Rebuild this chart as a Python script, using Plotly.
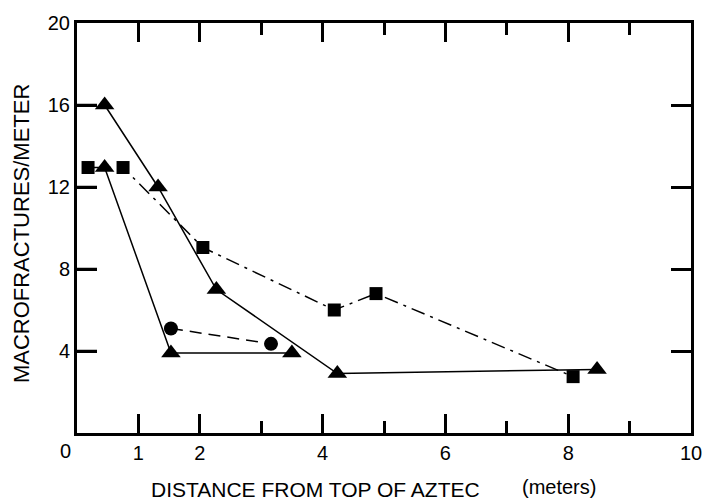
import plotly.graph_objects as go

# Series A: triangles, solid line
a_x = [0.45, 1.32, 2.27, 4.24, 8.47]
a_y = [16.0, 12.0, 7.0, 2.9, 3.1]
# Series B: triangles, solid line
b_x = [0.45, 1.53, 3.5]
b_y = [12.95, 3.9, 3.9]
# Series C: squares, dash-dot line
c_x = [0.18, 0.75, 2.05, 4.19, 4.87, 8.08]
c_y = [12.95, 12.95, 9.05, 6.0, 6.8, 2.75]
# Series D: circles, dashed line
d_x = [1.53, 3.16]
d_y = [5.1, 4.35]

x_major = [0, 1, 2, 4, 6, 8, 10]
x_labels = ["", "1", "2", "4", "6", "8", "10"]
x_minor = [3, 5, 7, 9]
y_ticks = [4, 8, 12, 16, 20]
y_tick_marks = [4, 8, 12, 16]

FONT = "Liberation Sans, Arial, sans-serif"
W, H = 714, 500
L, R, T, B = 77, 21, 17, 67
PW, PH = W - L - R, H - T - B


def px(x):
    return (x - L) / PW


def py(y):
    return (H - B - y) / PH


fig = go.Figure()
fig.add_trace(go.Scatter(x=c_x, y=c_y, mode="lines+markers",
                         line=dict(color="black", width=1.5, dash="14px,6px,3px,6px"),
                         marker=dict(symbol="square", size=13, color="black")))
fig.add_trace(go.Scatter(x=d_x, y=d_y, mode="lines+markers",
                         line=dict(color="black", width=1.5, dash="12px,7px"),
                         marker=dict(symbol="circle", size=14, color="black")))
fig.add_trace(go.Scatter(x=a_x, y=a_y, mode="lines+markers",
                         line=dict(color="black", width=1.5),
                         marker=dict(symbol="triangle-up", size=17, color="black")))
fig.add_trace(go.Scatter(x=b_x, y=b_y, mode="lines+markers",
                         line=dict(color="black", width=1.5),
                         marker=dict(symbol="triangle-up", size=17, color="black")))

fig.update_layout(
    width=W, height=H,
    margin=dict(l=L, r=R, t=T, b=B),
    paper_bgcolor="white", plot_bgcolor="white",
    showlegend=False,
    font=dict(family=FONT, color="black", size=20),
    xaxis=dict(range=[0, 10], showgrid=False, zeroline=False,
               showline=True, linecolor="black", linewidth=3, mirror="allticks",
               ticks="inside", ticklen=19, tickwidth=2.5, tickcolor="black",
               tickvals=x_major, ticktext=x_labels,
               minor=dict(tickvals=x_minor, ticks="inside", ticklen=12,
                          tickwidth=2.5, tickcolor="black", showgrid=False),
               tickfont=dict(size=20, family=FONT)),
    yaxis=dict(range=[0, 20], showgrid=False, zeroline=False,
               showline=True, linecolor="black", linewidth=3, mirror="allticks",
               ticks="inside", ticklen=20, tickwidth=2.5, tickcolor="black",
               tickvals=y_ticks, ticktext=[str(v) for v in y_ticks],
               tickfont=dict(size=20, family=FONT)),
)

# left-side tick marks (inside), drawn on the data scale
for yv in y_tick_marks:
    fig.add_shape(type="line", xref="x", yref="y", xsizemode="pixel", xanchor=0,
                  x0=0, x1=20, y0=yv, y1=yv, line=dict(color="black", width=2.5))

fig.add_annotation(x=px(65), y=py(451), xref="paper", yref="paper", text="0",
                   xanchor="center", yanchor="middle",
                   showarrow=False, font=dict(size=20, family=FONT))
fig.add_annotation(x=px(316), y=py(490), xref="paper", yref="paper",
                   text="DISTANCE FROM TOP OF AZTEC", xanchor="center", yanchor="middle",
                   showarrow=False, font=dict(size=21, family=FONT))
fig.add_annotation(x=px(561), y=py(488), xref="paper", yref="paper",
                   text="(meters)", xanchor="center", yanchor="middle",
                   showarrow=False, font=dict(size=20, family=FONT))
fig.add_annotation(x=px(22), y=py(231), xref="paper", yref="paper",
                   text="MACROFRACTURES/METER", xanchor="center", yanchor="middle",
                   textangle=-90, showarrow=False, font=dict(size=22, family=FONT))

fig.write_html("out.html")
